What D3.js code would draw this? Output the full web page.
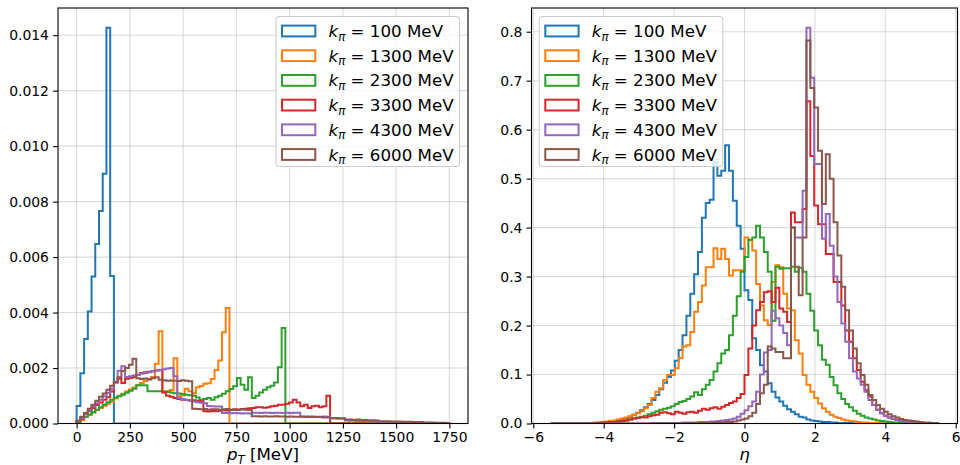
<!DOCTYPE html>
<html>
<head>
<meta charset="utf-8">
<script src="https://cdn.jsdelivr.net/npm/d3@7"></script>
<style>
  body { margin: 0; background: #fff; }
  svg { display: block; }
  text { font-family: "DejaVu Sans", sans-serif; fill: #000; }
</style>
</head>
<body>
<svg id="chart" width="960" height="465"></svg>
<script>
// energies of the pion beam, one series per energy
const energies = ["100", "1300", "2300", "3300", "4300", "6000"]
const colors = ["#1f77b4", "#ff7f0e", "#2ca02c", "#d62728", "#9467bd", "#8c564b"]

// pT histogram: 100 bins over [0, 1750] MeV, values read in units of 1e-4
const ptRange = [0, 1750]
const ptUnit = 1e-4
const pt100 = [6.3, 18.1, 30.5, 40.4, 53.0, 64.7, 76.6, 90.0, 142.7, 53.2]
const pt1300 = [0.3, 1.3, 2.3, 3.1, 4.0, 4.9, 5.6, 6.4, 7.1, 7.8, 9.0, 10.0, 10.7, 11.5, 12.3, 13.0, 13.8, 14.6, 15.3, 16.0,
  16.8, 21.5, 33.3, 11.3, 11.6, 12.1, 23.5, 9.8, 10.1, 12.5, 11.6, 10.9, 13.1, 13.5, 14.3, 14.5, 16.0, 19.3, 22.7, 32.9, 41.6]
const pt2300 = [0.5, 1.5, 2.4, 3.2, 4.1, 5.0, 5.9, 6.8, 7.7, 8.6, 9.4, 9.8, 10.4, 11.1, 11.8, 12.5, 13.8, 13.8, 13.8, 11.6,
  11.6, 11.6, 11.6, 11.5, 11.4, 11.2, 10.9, 10.8, 10.6, 10.4, 10.2, 10.0, 9.4, 8.6, 8.8, 9.2, 8.6, 9.5, 10.0, 10.7,
  11.6, 12.4, 13.4, 16.4, 14.0, 12.2, 16.7, 9.2, 10.0, 11.2, 12.2, 13.1, 13.6, 14.8, 20.3, 34.4]
const pt3300 = [0.9, 2.2, 3.4, 4.5, 5.6, 6.7, 7.6, 8.6, 9.5, 11.5, 14.9, 16.1, 14.6, 16.1, 16.4, 16.8, 17.6, 18.2, 18.5, 18.7,
  18.8, 19.1, 19.2, 11.2, 10.0, 9.6, 9.2, 8.8, 8.6, 8.6, 8.4, 8.4, 8.2, 8.0, 4.4, 4.3, 4.5, 4.4, 4.6, 4.8,
  4.7, 4.9, 5.1, 5.0, 5.2, 5.3, 5.5, 5.6, 5.9, 5.9, 5.7, 5.9, 6.2, 6.4, 6.8, 6.8, 7.1, 7.6, 8.6, 7.6,
  6.2, 6.8, 5.6, 6.2, 6.4, 5.9, 6.2, 10.0]
const pt4300 = [0.8, 2.1, 3.5, 4.8, 6.1, 7.3, 8.6, 9.8, 11.1, 12.5, 14.8, 19.0, 20.6, 16.8, 17.0, 17.3, 17.6, 17.9, 18.2, 18.5,
  18.8, 19.1, 19.3, 19.6, 19.8, 20.0, 17.0, 9.2, 8.8, 8.5, 8.2, 7.9, 7.7, 7.5, 7.3, 6.3, 6.2, 6.1, 6.1, 3.8,
  3.8, 3.7, 3.8, 3.7, 3.6, 3.7, 3.6, 3.9, 3.9, 3.8, 3.9, 3.9, 3.8, 3.9, 3.9, 3.8, 3.9, 3.8, 3.9, 3.9,
  2.5, 2.5, 2.4, 2.5, 2.4, 2.4, 2.5, 2.4, 1.8, 1.8, 1.7, 1.7, 1.1, 1.0, 1.0, 0.9, 0.9, 0.9, 0.8, 0.8,
  0.7, 0.5, 0.5, 0.4, 0.4, 0.4, 0.3, 0.3, 0.3, 0.3, 0.2, 0.2, 0.2, 0.2, 0.2, 0.1, 0.1, 0.1, 0.1, 0.1]
const pt6000 = [1.0, 2.4, 3.8, 5.3, 6.8, 8.2, 9.6, 10.8, 12.2, 13.6, 14.9, 16.7, 18.9, 20.0, 21.2, 23.3, 16.3, 16.0, 16.2, 15.9,
  16.3, 16.7, 15.8, 15.6, 15.4, 15.5, 15.4, 15.3, 15.6, 15.4, 15.2, 5.3, 5.2, 5.1, 5.2, 5.0, 5.1, 5.1, 5.0, 5.1,
  5.2, 5.0, 4.9, 5.0, 5.1, 5.0, 4.9, 2.6, 2.6, 2.5, 2.6, 2.5, 2.5, 2.6, 2.5, 2.5, 2.4, 2.5, 2.4, 2.4,
  2.4, 2.3, 2.4, 2.3, 2.3, 2.3, 2.2, 2.2, 2.0, 2.0, 1.9, 1.9, 1.4, 1.4, 1.3, 1.4, 1.3, 1.3, 1.2, 1.2,
  1.1, 0.8, 0.8, 0.8, 0.7, 0.7, 0.7, 0.6, 0.6, 0.6, 0.5, 0.5, 0.5, 0.4, 0.4, 0.4, 0.3, 0.3, 0.3, 0.2]

// eta histogram: 100 bins over [-5.5, 5.5]
const etaRange = [-5.5, 5.5]
const eta100 = [0, 0, 0, 0, 0, 0, 0, 0, 0, 0,
  0.001, 0.001, 0.002, 0.002, 0.003, 0.004, 0.005, 0.007, 0.009, 0.011,
  0.014, 0.018, 0.022, 0.027, 0.033, 0.040, 0.048, 0.058, 0.070, 0.083,
  0.095, 0.108, 0.128, 0.150, 0.180, 0.220, 0.265, 0.305, 0.350, 0.420,
  0.450, 0.457, 0.533, 0.506, 0.516, 0.568, 0.516, 0.455, 0.404, 0.357,
  0.272, 0.252, 0.174, 0.150, 0.119, 0.106, 0.082, 0.065, 0.053, 0.045,
  0.036, 0.029, 0.024, 0.019, 0.014, 0.012, 0.008, 0.006, 0.005, 0.004,
  0.003, 0.003, 0.002, 0.002, 0.001, 0.001, 0.001, 0.001, 0, 0,
  0, 0, 0, 0, 0, 0, 0, 0, 0, 0,
  0, 0, 0, 0, 0, 0, 0, 0, 0, 0]
const eta1300 = [0, 0, 0, 0, 0, 0, 0, 0, 0.001, 0.001,
  0.001, 0.002, 0.002, 0.003, 0.004, 0.005, 0.006, 0.008, 0.010, 0.012,
  0.015, 0.018, 0.021, 0.025, 0.031, 0.038, 0.052, 0.065, 0.072, 0.089,
  0.099, 0.099, 0.113, 0.133, 0.157, 0.160, 0.187, 0.228, 0.248, 0.282,
  0.319, 0.319, 0.358, 0.336, 0.357, 0.336, 0.302, 0.313, 0.313, 0.313,
  0.380, 0.374, 0.353, 0.285, 0.241, 0.211, 0.201, 0.289, 0.323, 0.319,
  0.265, 0.235, 0.231, 0.170, 0.143, 0.099, 0.079, 0.065, 0.052, 0.041,
  0.031, 0.024, 0.018, 0.014, 0.011, 0.008, 0.006, 0.005, 0.004, 0.003,
  0.002, 0.002, 0.001, 0.001, 0.001, 0, 0, 0, 0, 0,
  0, 0, 0, 0, 0, 0, 0, 0, 0, 0]
const eta2300 = [0, 0, 0, 0, 0, 0, 0, 0, 0, 0,
  0, 0.001, 0.001, 0.001, 0.002, 0.002, 0.003, 0.004, 0.005, 0.006,
  0.008, 0.010, 0.012, 0.014, 0.016, 0.019, 0.022, 0.025, 0.028, 0.030,
  0.032, 0.035, 0.040, 0.044, 0.046, 0.050, 0.055, 0.064, 0.058, 0.070,
  0.079, 0.089, 0.106, 0.123, 0.143, 0.150, 0.180, 0.220, 0.260, 0.310,
  0.340, 0.375, 0.380, 0.404, 0.380, 0.350, 0.310, 0.210, 0.320, 0.316,
  0.317, 0.317, 0.320, 0.310, 0.318, 0.310, 0.265, 0.230, 0.190, 0.160,
  0.130, 0.120, 0.095, 0.078, 0.062, 0.050, 0.040, 0.033, 0.026, 0.020,
  0.016, 0.012, 0.010, 0.008, 0.006, 0.005, 0.004, 0.003, 0.002, 0.002,
  0.001, 0.001, 0, 0, 0, 0, 0, 0, 0, 0]
const eta3300 = [0, 0, 0, 0, 0, 0, 0, 0, 0, 0,
  0.001, 0.001, 0.001, 0.002, 0.002, 0.003, 0.003, 0.004, 0.005, 0.006,
  0.008, 0.010, 0.011, 0.013, 0.012, 0.015, 0.017, 0.018, 0.022, 0.023,
  0.021, 0.019, 0.024, 0.022, 0.020, 0.023, 0.024, 0.022, 0.026, 0.030,
  0.028, 0.031, 0.033, 0.030, 0.034, 0.038, 0.042, 0.045, 0.052, 0.060,
  0.099, 0.153, 0.200, 0.231, 0.248, 0.268, 0.270, 0.248, 0.277, 0.235,
  0.228, 0.207, 0.431, 0.411, 0.411, 0.438, 0.658, 0.546, 0.445, 0.407,
  0.407, 0.346, 0.346, 0.289, 0.289, 0.241, 0.190, 0.167, 0.133, 0.109,
  0.085, 0.068, 0.055, 0.038, 0.028, 0.021, 0.016, 0.012, 0.009, 0.007,
  0.005, 0.004, 0.003, 0.002, 0.001, 0, 0, 0, 0, 0]
const eta4300 = [0, 0, 0, 0, 0, 0, 0, 0, 0, 0,
  0, 0, 0, 0, 0, 0, 0, 0, 0, 0,
  0, 0, 0, 0, 0, 0, 0.001, 0.001, 0.001, 0.001,
  0.001, 0.001, 0.001, 0.001, 0.002, 0.002, 0.002, 0.002, 0.003, 0.003,
  0.003, 0.004, 0.004, 0.005, 0.006, 0.007, 0.008, 0.010, 0.014, 0.020,
  0.027, 0.035, 0.045, 0.065, 0.100, 0.145, 0.150, 0.230, 0.215, 0.200,
  0.185, 0.160, 0.400, 0.380, 0.380, 0.475, 0.808, 0.706, 0.530, 0.530,
  0.377, 0.428, 0.363, 0.300, 0.248, 0.204, 0.167, 0.133, 0.106, 0.092,
  0.079, 0.065, 0.048, 0.038, 0.028, 0.021, 0.016, 0.012, 0.009, 0.007,
  0.005, 0.004, 0.003, 0.002, 0.002, 0.001, 0.001, 0, 0, 0]
const eta6000 = [0, 0, 0, 0, 0, 0, 0, 0, 0, 0,
  0, 0, 0, 0, 0, 0, 0, 0, 0, 0,
  0, 0, 0, 0, 0, 0, 0, 0, 0, 0,
  0, 0, 0, 0, 0, 0, 0.001, 0.001, 0.001, 0.001,
  0.001, 0.001, 0.002, 0.002, 0.002, 0.003, 0.003, 0.004, 0.006, 0.008,
  0.010, 0.015, 0.022, 0.040, 0.062, 0.079, 0.157, 0.153, 0.146, 0.146,
  0.133, 0.133, 0.400, 0.320, 0.262, 0.380, 0.782, 0.685, 0.645, 0.557,
  0.448, 0.550, 0.500, 0.411, 0.343, 0.279, 0.231, 0.190, 0.153, 0.123,
  0.099, 0.079, 0.058, 0.048, 0.038, 0.030, 0.024, 0.019, 0.015, 0.012,
  0.009, 0.007, 0.006, 0.005, 0.004, 0.003, 0.002, 0.002, 0.001, 0.001]

const ptTicksX = [0, 250, 500, 750, 1000, 1250, 1500, 1750]
const ptTicksY = [0, 0.002, 0.004, 0.006, 0.008, 0.010, 0.012, 0.014]
const etaTicksX = [-6, -4, -2, 0, 2, 4, 6]
const etaTicksY = [0, 0.1, 0.2, 0.3, 0.4, 0.5, 0.6, 0.7, 0.8]

const nBins = 100
const svg = d3.select('#chart')

function drawPanel(p) {
  const x = d3.scaleLinear(p.xDomain, [p.left, p.right])
  const y = d3.scaleLinear(p.yDomain, [p.bottom, p.top])
  const g = svg.append('g')

  g.append('clipPath').attr('id', p.id)
    .append('rect')
    .attr('x', p.left).attr('y', p.top)
    .attr('width', p.right - p.left).attr('height', p.bottom - p.top)

  // grid
  g.selectAll('.gx').data(p.xTicks).join('line')
    .attr('x1', d => x(d)).attr('x2', d => x(d))
    .attr('y1', p.top).attr('y2', p.bottom)
    .attr('stroke', '#b0b0b0').attr('stroke-opacity', 0.45).attr('stroke-width', 1.1)
  g.selectAll('.gy').data(p.yTicks).join('line')
    .attr('class', 'gy')
    .attr('x1', p.left).attr('x2', p.right)
    .attr('y1', d => y(d)).attr('y2', d => y(d))
    .attr('stroke', '#b0b0b0').attr('stroke-opacity', 0.45).attr('stroke-width', 1.1)

  // step histograms
  const edges = d3.range(nBins + 1).map(i => p.range[0] + (p.range[1] - p.range[0]) * i / nBins)
  const line = d3.line().x(d => x(d[0])).y(d => y(d[1]))
  p.series.forEach((vals, s) => {
    const full = d3.range(nBins).map(i => (vals[i] || 0) * p.unit)
    const pts = [[edges[0], 0]]
    full.forEach((v, i) => { pts.push([edges[i], v]); pts.push([edges[i + 1], v]) })
    pts.push([edges[nBins], 0])
    g.append('path')
      .attr('d', line(pts))
      .attr('fill', 'none')
      .attr('stroke', colors[s])
      .attr('stroke-width', 2)
      .attr('stroke-linejoin', 'miter')
      .attr('clip-path', `url(#${p.id})`)
  })

  // axes
  const xAxis = d3.axisBottom(x).tickValues(p.xTicks).tickFormat(p.xFormat).tickSize(4.9).tickPadding(4.2)
  g.append('g')
    .attr('transform', `translate(0, ${p.bottom})`)
    .call(xAxis)
    .call(a => a.select('.domain').remove())
    .call(a => a.selectAll('line').attr('stroke-width', 1.1))
    .call(a => a.selectAll('text').attr('font-size', '13.9px').attr('font-family', 'DejaVu Sans'))
  const yAxis = d3.axisLeft(y).tickValues(p.yTicks).tickFormat(p.yFormat).tickSize(4.9).tickPadding(4.2)
  g.append('g')
    .attr('transform', `translate(${p.left}, 0)`)
    .call(yAxis)
    .call(a => a.select('.domain').remove())
    .call(a => a.selectAll('line').attr('stroke-width', 1.1))
    .call(a => a.selectAll('text').attr('font-size', '13.9px').attr('font-family', 'DejaVu Sans'))

  // spines
  g.append('rect')
    .attr('x', p.left).attr('y', p.top)
    .attr('width', p.right - p.left).attr('height', p.bottom - p.top)
    .attr('fill', 'none').attr('stroke', '#000').attr('stroke-width', 1.1)

  // x label
  p.xLabel(g.append('text')
    .attr('x', (p.left + p.right) / 2).attr('y', 460)
    .attr('text-anchor', 'middle')
    .attr('font-size', '16.7px'))

  // legend
  const lg = g.append('g')
  lg.append('rect')
    .attr('x', p.legendX).attr('y', 16.5)
    .attr('width', 183.5).attr('height', 150)
    .attr('rx', 3.5)
    .attr('fill', '#fff').attr('fill-opacity', 0.8)
    .attr('stroke', '#cccccc').attr('stroke-width', 1.1)
  energies.forEach((e, i) => {
    const cy = 31 + i * 24.7
    lg.append('rect')
      .attr('x', p.legendX + 6).attr('y', cy - 5.4)
      .attr('width', 33.3).attr('height', 10.8)
      .attr('fill', 'none').attr('stroke', colors[i]).attr('stroke-width', 2)
    const t = lg.append('text')
      .attr('x', p.legendX + 52.5).attr('y', cy + 6)
      .attr('font-size', '16.7px')
    t.append('tspan').attr('font-style', 'italic').text('k')
    t.append('tspan').attr('font-style', 'italic').attr('font-size', '11.7px').attr('dy', 3.5).text('π')
    t.append('tspan').attr('dy', -3.5).text(` = ${e} MeV`)
  })
}

drawPanel({
  id: 'clipPt', left: 58, right: 468, top: 8, bottom: 423.5,
  xDomain: [-87.5, 1837.5], yDomain: [0, 0.01498],
  range: ptRange, unit: ptUnit,
  series: [pt100, pt1300, pt2300, pt3300, pt4300, pt6000],
  xTicks: ptTicksX, yTicks: ptTicksY,
  xFormat: d3.format('d'), yFormat: d3.format('.3f'),
  legendX: 276,
  xLabel: t => {
    t.append('tspan').attr('font-style', 'italic').text('p')
    t.append('tspan').attr('font-style', 'italic').attr('font-size', '11.7px').attr('dy', 3.5).text('T')
    t.append('tspan').attr('dy', -3.5).text(' [MeV]')
  }
})

drawPanel({
  id: 'clipEta', left: 531.5, right: 957.5, top: 8, bottom: 423.5,
  xDomain: [-6.05, 6.05], yDomain: [0, 0.8484],
  range: etaRange, unit: 1,
  series: [eta100, eta1300, eta2300, eta3300, eta4300, eta6000],
  xTicks: etaTicksX, yTicks: etaTicksY,
  xFormat: d3.format('d'), yFormat: d3.format('.1f'),
  legendX: 539.3,
  xLabel: t => { t.attr('font-style', 'italic').text('η') }
})
</script>
</body>
</html>
